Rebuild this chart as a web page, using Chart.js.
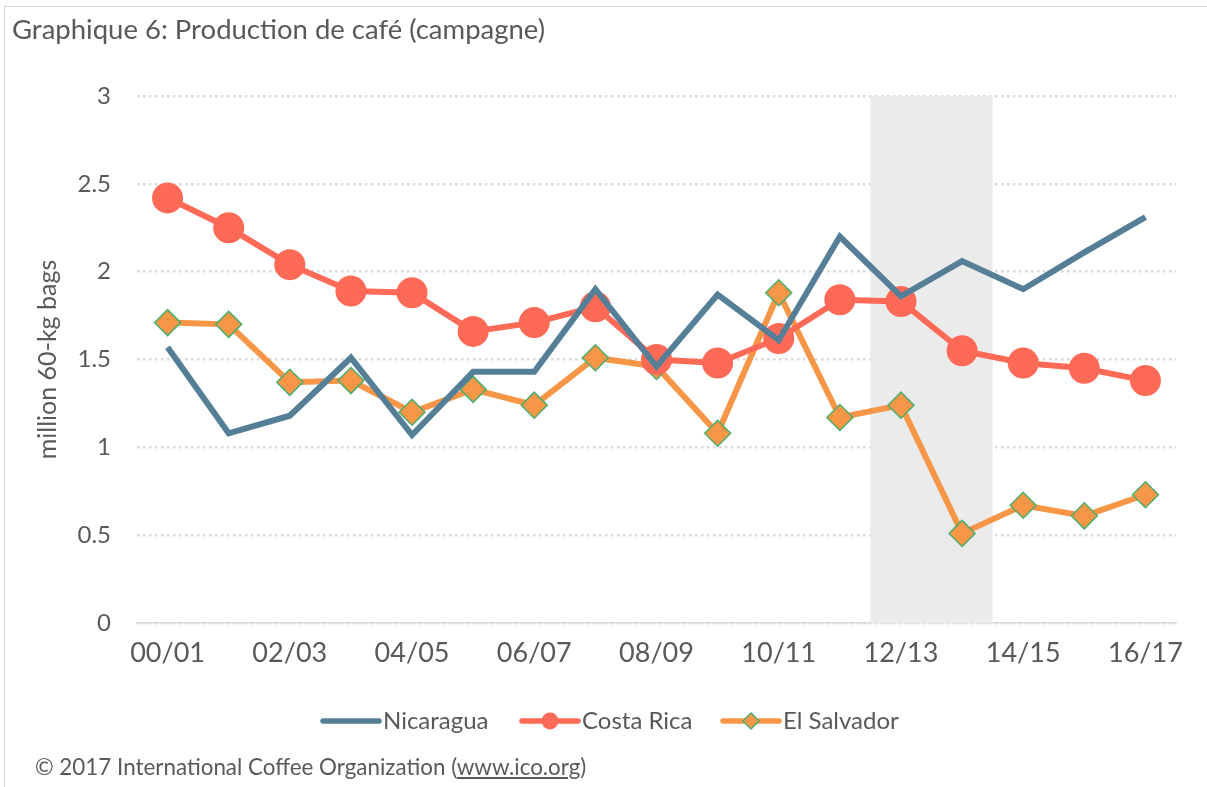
<!DOCTYPE html>
<html>
<head>
<meta charset="utf-8">
<script src="https://cdn.jsdelivr.net/npm/chart.js@4"></script>
<style>
    body{margin:0;background:#fff;font-family:Lato,"Open Sans",sans-serif;}
    #frame{position:absolute;left:4px;top:6px;width:1220px;height:800px;border:1px solid #d9d9d9;}
    #title{position:absolute;left:12px;top:12px;font-size:27.5px;color:#595959;}
    #footer{position:absolute;left:35px;top:753px;font-size:22.4px;color:#595959;}
    #footer span{text-decoration:underline;}
    #dataChart{position:absolute;left:0;top:0;}
</style>
</head>
<body>
<div id="frame"></div>
<canvas id="dataChart" width="1207" height="787"></canvas>
<div id="title">Graphique 6: Production de café (campagne)</div>
<div id="footer">© 2017 International Coffee Organization (<span>www.ico.org</span>)</div>
<script>
const campaigns = ["00/01","01/02","02/03","03/04","04/05","05/06","06/07","07/08","08/09",
    "09/10","10/11","11/12","12/13","13/14","14/15","15/16","16/17"];
const nicaragua = [1.57,1.08,1.18,1.51,1.07,1.43,1.43,1.90,1.46,1.87,1.61,2.20,1.86,2.06,1.90,2.11,2.31];
const costaRica = [2.42,2.25,2.04,1.89,1.88,1.66,1.71,1.80,1.50,1.48,1.62,1.84,1.83,1.55,1.48,1.45,1.38];
const elSalvador = [1.71,1.70,1.37,1.38,1.20,1.33,1.24,1.51,1.46,1.08,1.88,1.17,1.24,0.51,0.67,0.61,0.73];
const yTicks = [0,0.5,1,1.5,2,2.5,3];
const shadedFrom = "12/13", shadedTo = "13/14";

const textColor = "#595959";
const fontName = "Lato, 'Open Sans', sans-serif";

// grey band behind the lines
const bandPlugin = {
    id:"band",
    beforeDatasetsDraw(chart){
        let x = chart.scales.x;
        let area = chart.chartArea;
        let i0 = campaigns.indexOf(shadedFrom), i1 = campaigns.indexOf(shadedTo);
        let left = x.getPixelForValue(i0 - 0.5);
        let right = x.getPixelForValue(i1 + 0.5);
        let ctx = chart.ctx;
        ctx.save();
        ctx.fillStyle = "#ebebeb";
        ctx.fillRect(left, area.top, right-left, area.bottom-area.top);
        ctx.restore();
    }
};

// legend drawn by hand so lines show with their markers
const legendPlugin = {
    id:"lineLegend",
    afterDraw(chart){
        let ctx = chart.ctx;
        let y = 721;
        let starts = [323, 522, 723];
        ctx.save();
        ctx.font = "24px " + fontName;
        ctx.textBaseline = "middle";
        chart.data.datasets.forEach((ds, i) => {
            let x0 = starts[i];
            ctx.strokeStyle = ds.borderColor;
            ctx.lineWidth = 5.5;
            ctx.lineCap = "round";
            ctx.beginPath();
            ctx.moveTo(x0, y);
            ctx.lineTo(x0+56, y);
            ctx.stroke();
            let cx = x0 + 28;
            if(ds.pointStyle == "circle" && ds.pointRadius > 0){
                ctx.fillStyle = ds.pointBackgroundColor;
                ctx.beginPath();
                ctx.arc(cx, y, 8.5, 0, Math.PI*2);
                ctx.fill();
            }
            if(ds.pointStyle == "rectRot"){
                ctx.fillStyle = ds.pointBackgroundColor;
                ctx.strokeStyle = ds.pointBorderColor;
                ctx.lineWidth = 1.5;
                ctx.beginPath();
                ctx.moveTo(cx, y-8); ctx.lineTo(cx+8, y); ctx.lineTo(cx, y+8); ctx.lineTo(cx-8, y);
                ctx.closePath();
                ctx.fill();
                ctx.stroke();
            }
            ctx.fillStyle = textColor;
            ctx.fillText(ds.label, x0+60, y);
        });
        ctx.restore();
    }
};

let ctx = document.getElementById("dataChart").getContext("2d");
let chart = new Chart(ctx, {
    type:"line",
    data:{
        labels: campaigns,
        datasets:[
            {
                label:"Nicaragua",
                data: nicaragua,
                borderColor:"#557f97",
                borderWidth:6,
                pointRadius:0,
                pointStyle:"circle",
                tension:0
            },
            {
                label:"Costa Rica",
                data: costaRica,
                borderColor:"#ff6a57",
                backgroundColor:"#ff6a57",
                pointBackgroundColor:"#ff6a57",
                pointBorderColor:"#ff6a57",
                borderWidth:6,
                pointRadius:12.5,
                pointStyle:"circle",
                tension:0
            },
            {
                label:"El Salvador",
                data: elSalvador,
                borderColor:"#f79646",
                backgroundColor:"#f79646",
                pointBackgroundColor:"#f79646",
                pointBorderColor:"#4caf6e",
                pointBorderWidth:1.5,
                borderWidth:6,
                pointRadius:13,
                pointStyle:"rectRot",
                tension:0
            }
        ]
    },
    options:{
        responsive:false,
        animation:false,
        layout:{padding:{top:96, right:31, bottom:104, left:0}},
        plugins:{
            legend:{display:false},
            tooltip:{enabled:false}
        },
        scales:{
            x:{
                offset:true,
                afterFit(scale){ scale.height = 60; },
                grid:{display:false, drawTicks:false},
                border:{display:true, color:"#d9d9d9", width:1.5},
                ticks:{
                    autoSkip:false,
                    maxRotation:0,
                    padding:14,
                    color:textColor,
                    font:{family:fontName, size:27},
                    callback:function(val, index){
                        return index % 2 == 0 ? campaigns[index] : "";
                    }
                }
            },
            y:{
                min:0,
                max:3,
                afterFit(scale){ scale.width = 137; },
                afterBuildTicks(scale){ scale.ticks = yTicks.map(v => ({value:v})); },
                grid:{color:"#d9d9d9", lineWidth:2.5, drawTicks:false},
                border:{display:false, dash:[2.5,3.5]},
                title:{
                    display:true,
                    text:"million 60-kg bags",
                    color:textColor,
                    font:{family:fontName, size:25},
                    padding:{top:33, bottom:0}
                },
                ticks:{
                    padding:26,
                    color:textColor,
                    font:{family:fontName, size:24},
                    callback:function(val){ return String(val); }
                }
            }
        }
    },
    plugins:[bandPlugin, legendPlugin]
});
</script>
</body>
</html>
